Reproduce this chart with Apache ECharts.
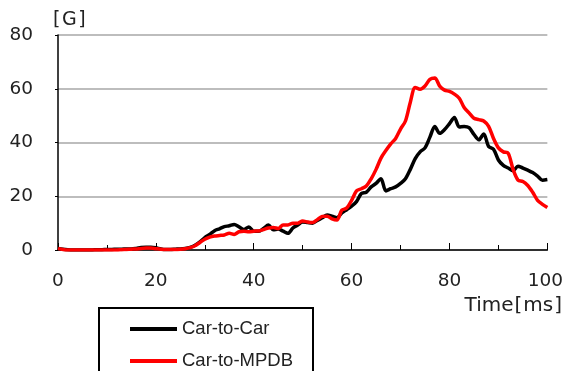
<!DOCTYPE html>
<html>
<head>
<meta charset="utf-8">
<script src="https://cdn.jsdelivr.net/npm/echarts@6/dist/echarts.min.js"></script>
<style>
html,body{margin:0;padding:0;background:#fff;}
#chart{width:566px;height:371px;}
</style>
</head>
<body>
<div id="chart"></div>
<script>
// Time in ms
var timeMs = [0,1,2,3,4,5,6,7,8,9,10,11,12,13,14,15,16,17,18,19,20,21,22,23,24,25,26,27,28,29,30,31,32,33,34,35,36,37,38,39,40,41,42,43,44,45,46,47,48,49,50,51,52,53,54,55,56,57,58,59,60,61,62,63,64,65,66,67,68,69,70,71,72,73,74,75,76,77,78,79,80,81,82,83,84,85,86,87,88,89,90,91,92,93,94,95,96,97,98,99,100];
// Acceleration [G] Car-to-Car
var carToCar = [0.6,0.3,0.1,0,0,0,0,0,0.1,0.1,0.2,0.2,0.3,0.3,0.4,0.4,0.6,0.9,1.0,1.0,0.8,0.4,0.2,0.2,0.3,0.4,0.6,1.0,1.8,3.0,4.6,5.8,7.2,7.9,8.7,9.0,9.5,8.6,7.6,8.6,7.0,7.0,8.0,9.3,7.5,7.8,7.0,6.2,8.2,9.3,10.4,10.2,10.0,11.0,12.0,13.0,12.6,12.0,13.8,15.0,16.3,18.0,21.0,21.5,23.5,24.8,26.5,22.0,22.8,23.5,24.8,26.5,30.0,34.0,36.5,38.0,42.0,46.0,43.4,44.8,47.0,49.3,45.8,46.0,45.5,43.0,41.0,43.2,38.5,37.5,33.5,31.5,30.5,29.5,31.2,30.5,29.7,28.8,27.5,26.0,26.2];
// Acceleration [G] Car-to-MPDB
var carToMPDB = [0.6,0.2,0,0,0,0,0,0,0,0,0,0,0,0.1,0.2,0.3,0.4,0.6,0.7,0.7,0.5,0.3,0.2,0.2,0.2,0.3,0.5,0.9,1.6,2.8,4.0,4.8,5.2,5.4,5.6,6.2,5.8,6.8,7.0,6.8,7.0,7.1,7.6,8.2,8.4,8.0,9.3,9.3,10.0,10.0,10.8,10.4,10.2,11.3,12.5,12.6,11.6,11.2,14.8,15.6,18.5,22.0,22.8,23.8,26.5,30.0,34.2,37.0,39.5,41.5,45.0,48.0,55.0,60.5,59.8,61.0,63.5,64.0,61.0,59.5,59.0,58.0,56.5,53.0,51.0,49.0,48.5,48.0,46.0,41.5,38.0,36.5,36.0,30.0,26.0,25.5,24.0,21.5,18.5,17.0,15.8];
var seriesNames = ['Car-to-Car','Car-to-MPDB'];
var xTickValues = [0,20,40,60,80,100];
var yTickValues = [0,20,40,60,80];

var FONT = 'DejaVu Sans';
var LFONT = 'Liberation Sans';
function pairs(vals){ return timeMs.map(function(t,i){ return [t, vals[i]]; }); }

var legendBase = {
  orient:'vertical', left:125, itemWidth:47, itemHeight:4, icon:'rect',
  textStyle:{fontFamily:LFONT, fontSize:18.5, color:'#222', lineHeight:20}
};

var chart = echarts.init(document.getElementById('chart'), null, {renderer:'canvas'});
chart.setOption({
  animation:false,
  backgroundColor:'#ffffff',
  grid:{left:58, right:18, top:35, bottom:121, containLabel:false},
  xAxis:{
    type:'value', min:xTickValues[0], max:xTickValues[xTickValues.length-1], interval:20,
    axisLine:{show:true, onZero:false, lineStyle:{color:'#000', width:1.5}},
    axisTick:{show:true, inside:true, length:7, lineStyle:{color:'#000', width:1}},
    minorTick:{show:true, splitNumber:2, length:5, lineStyle:{color:'#000', width:1}},
    splitLine:{show:false},
    axisLabel:{
      margin:22, color:'#222', fontFamily:FONT, fontSize:18.5,
      formatter:function(v){ return v===100 ? '{m|100}' : String(v); },
      rich:{m:{fontFamily:FONT, fontSize:18.5, color:'#222', padding:[0,4,0,0]}}
    }
  },
  yAxis:{
    type:'value', min:yTickValues[0], max:yTickValues[yTickValues.length-1], interval:20,
    axisLine:{show:true, onZero:false, lineStyle:{color:'#000', width:1.5}},
    axisTick:{show:true, inside:false, length:3, lineStyle:{color:'#000', width:1}},
    splitLine:{show:true, lineStyle:{color:'#bdbdbd', width:2}},
    axisLabel:{margin:25, color:'#222', fontFamily:FONT, fontSize:18.5}
  },
  legend:[
    Object.assign({}, legendBase, {top:314, data:[seriesNames[0]]}),
    Object.assign({}, legendBase, {top:346, data:[seriesNames[1]]})
  ],
  graphic:[
    {type:'rect', silent:true, z:100, shape:{x:99, y:308, width:214, height:100},
     style:{fill:'none', stroke:'#000', lineWidth:2}},
    {type:'text', silent:true, left:53, top:11,
     style:{text:'{b|[}{g|G}{b|]}', fill:'#222',
       rich:{b:{fontFamily:FONT, fontSize:19, fill:'#222', padding:[0,1.5,0,1.5]},
             g:{fontFamily:FONT, fontSize:19, fill:'#222'}}}},
    {type:'text', silent:true, right:4, top:296,
     style:{text:'{t|Time}{b|[}{t|ms}{b|]}', fill:'#222',
       rich:{t:{fontFamily:FONT, fontSize:20, fill:'#222'},
             b:{fontFamily:FONT, fontSize:20, fill:'#222', padding:[0,1,0,1]}}}}
  ],
  series:[
    {name:seriesNames[0], type:'line', data:pairs(carToCar), showSymbol:false, symbol:'none', smooth:0.3,
     itemStyle:{color:'#000000'}, lineStyle:{color:'#000000', width:3.5}, z:3},
    {name:seriesNames[1], type:'line', data:pairs(carToMPDB), showSymbol:false, symbol:'none', smooth:0.3,
     itemStyle:{color:'#ff0000'}, lineStyle:{color:'#ff0000', width:3.5}, z:4}
  ]
});
</script>
</body>
</html>
